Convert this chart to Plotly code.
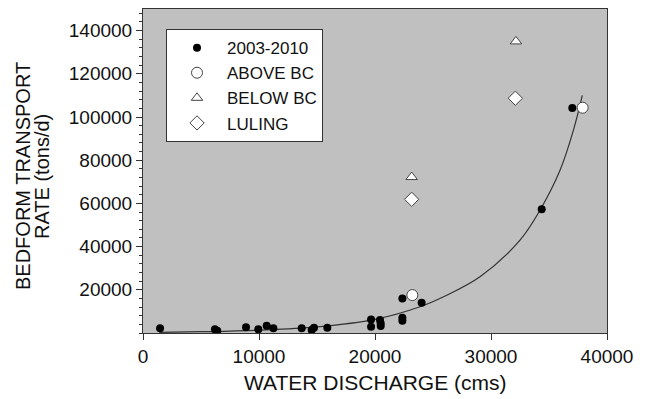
import plotly.graph_objects as go

# 2003-2010 measurements (water discharge cms, bedform transport tons/d)
obs_x = [1470, 6200, 6400, 8880, 9940, 10660, 11240, 13680, 14540, 14740, 15890,
         19660, 19660, 20430, 20490, 20490, 22360, 22360, 22360, 24020, 34370, 37010]
obs_y = [2170, 1700, 1060, 2630, 1700, 3380, 2170, 2170, 1390, 2460, 2460,
         6300, 2910, 6000, 4480, 3230, 16000, 7070, 5680, 14000, 57300, 104200]

above_x = [23220, 37900]
above_y = [17550, 104300]

below_x = [23160, 32150]
below_y = [72200, 135000]

luling_x = [23160, 32100]
luling_y = [61900, 108700]

# fitted trend curve
fit_x = [1400, 5000, 10000, 15000, 20000, 23880, 26000, 29050, 32500, 34220, 35950, 37100, 37870]
fit_y = [300, 600, 1300, 2800, 6300, 12150, 17000, 26000, 43000, 56800, 75300, 93800, 110000]

x_ticks = [0, 10000, 20000, 30000, 40000]
y_ticks = [20000, 40000, 60000, 80000, 100000, 120000, 140000]

fig = go.Figure()
fig.add_trace(go.Scatter(x=fit_x, y=fit_y, mode="lines", line=dict(color="#333333", width=1.2, shape="spline"),
                         showlegend=False, hoverinfo="skip"))
fig.add_trace(go.Scatter(x=obs_x, y=obs_y, mode="markers", name="2003-2010",
                         marker=dict(symbol="circle", size=8, color="black")))
fig.add_trace(go.Scatter(x=above_x, y=above_y, mode="markers", name="ABOVE BC",
                         marker=dict(symbol="circle", size=11, color="white", line=dict(color="#444444", width=1))))
fig.add_trace(go.Scatter(x=below_x, y=below_y, mode="markers", name="BELOW BC",
                         marker=dict(symbol="triangle-up", size=10, color="white", line=dict(color="#444444", width=1))))
fig.add_trace(go.Scatter(x=luling_x, y=luling_y, mode="markers", name="LULING",
                         marker=dict(symbol="diamond", size=11, color="white", line=dict(color="#444444", width=1))))

axis_font = dict(family="Liberation Sans, Arial, sans-serif", size=19, color="#111111")
xtitle_font = dict(family="Liberation Sans, Arial, sans-serif", size=21, color="#111111")
ytitle_font = dict(family="Liberation Sans, Arial, sans-serif", size=20, color="#111111")

# page body has an 8px default margin, so the figure is sized/offset for that
fig.update_layout(
    width=641, height=391,
    margin=dict(l=135, r=42, t=1, b=66),
    paper_bgcolor="white",
    plot_bgcolor="#c0c0c0",
    xaxis=dict(range=[0, 40000], tickvals=x_ticks, ticktext=[str(v) for v in x_ticks],
               ticks="outside", ticklen=6, tickcolor="#333333", showgrid=False, zeroline=False,
               showline=True, linecolor="#333333", linewidth=1, mirror=True,
               tickfont=axis_font),
    yaxis=dict(range=[0, 150000], tickvals=y_ticks, ticktext=[str(v) for v in y_ticks],
               ticks="outside", ticklen=6, tickcolor="#333333", showgrid=False, zeroline=False,
               showline=True, linecolor="#333333", linewidth=1, mirror=True,
               tickfont=axis_font,
               minor=dict(dtick=4000, tick0=0, ticks="outside", ticklen=3, tickcolor="#333333", showgrid=False)),
    legend=dict(x=0.0496, y=0.938, xanchor="left", yanchor="top",
                bgcolor="white", bordercolor="#333333", borderwidth=1,
                font=dict(family="Liberation Sans, Arial, sans-serif", size=17, color="#111111"),
                itemwidth=50, tracegroupgap=0),
    showlegend=True,
    annotations=[
        dict(text="WATER DISCHARGE (cms)", xref="paper", yref="paper", x=0.5, y=-0.154,
             xanchor="center", yanchor="middle", showarrow=False, font=xtitle_font),
        dict(text="BEDFORM TRANSPORT", xref="paper", yref="paper", x=-0.2586, y=0.4846,
             xanchor="center", yanchor="middle", showarrow=False, textangle=-90, font=ytitle_font),
        dict(text="RATE (tons/d)", xref="paper", yref="paper", x=-0.2177, y=0.4846,
             xanchor="center", yanchor="middle", showarrow=False, textangle=-90, font=ytitle_font),
    ],
)

fig.write_html("out.html")
